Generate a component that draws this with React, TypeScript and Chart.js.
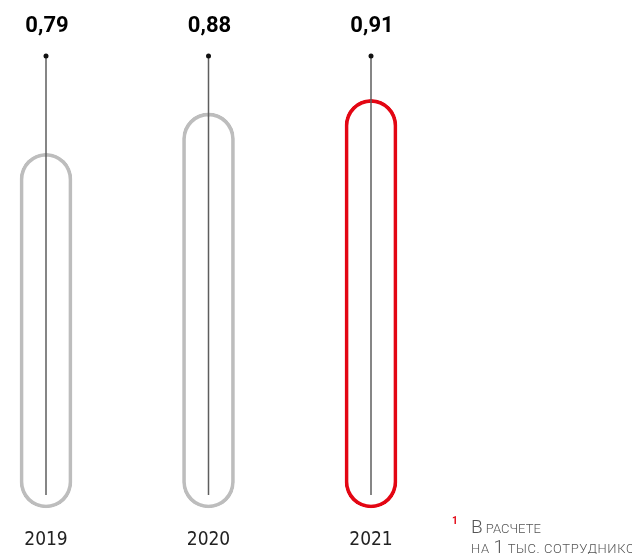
import React, { useEffect, useRef } from 'react';
import { Chart, registerables } from 'chart.js';

Chart.register(...registerables);

const years = ['2019', '2020', '2021'];
const values = [0.79, 0.88, 0.91];
const valueLabels = ['0,79', '0,88', '0,91'];
const barColors = ['#bdbdbd', '#bdbdbd', '#e30613'];
const footnoteMark = '1';
// [text, isBig] segments: small-caps emulation
const footnoteLine1: [string, boolean][] = [['В', true], [' РАСЧЕТЕ', false]];
const footnoteLine2: [string, boolean][] = [['НА ', false], ['1', true], [' ТЫС. СОТРУДНИКОВ', false]];

const decorPlugin = {
  id: 'decor',
  afterDatasetsDraw(chart: any) {
    const { ctx, scales } = chart;
    const x = scales.x;
    const y = scales.y;
    ctx.save();
    values.forEach((_v, i) => {
      const px = x.getPixelForValue(i);
      const top = y.getPixelForValue(y.max) - 3;
      const bottom = y.getPixelForValue(0) - 13;
      ctx.strokeStyle = '#5e5e5e';
      ctx.lineWidth = 1.5;
      ctx.beginPath();
      ctx.moveTo(px, top);
      ctx.lineTo(px, bottom);
      ctx.stroke();
      ctx.fillStyle = '#111';
      ctx.beginPath();
      ctx.arc(px, top, 2.5, 0, Math.PI * 2);
      ctx.fill();
      ctx.font = 'bold 22px Roboto';
      ctx.textAlign = 'center';
      ctx.textBaseline = 'middle';
      ctx.fillStyle = '#000';
      ctx.fillText(valueLabels[i], px + 1, 18.5);
    });

    // footnote
    ctx.textAlign = 'left';
    ctx.textBaseline = 'alphabetic';
    ctx.fillStyle = '#e30613';
    ctx.font = 'bold 10px Roboto';
    ctx.fillText(footnoteMark, 444, 516);
    const drawLine = (segs: [string, boolean][], sx: number, by: number, spacing: string) => {
      let cx = sx;
      ctx.fillStyle = '#555';
      segs.forEach(([t, big]) => {
        ctx.font = big ? '300 19px Roboto' : '300 13px Roboto';
        (ctx as any).letterSpacing = big ? '0px' : spacing;
        ctx.fillText(t, cx, by);
        cx += ctx.measureText(t).width;
      });
      (ctx as any).letterSpacing = '0px';
    };
    drawLine(footnoteLine1, 463, 525, '0px');
    drawLine(footnoteLine2, 463, 544.5, '0.6px');
    ctx.restore();
  },
};

export default function App() {
  const ref = useRef<HTMLCanvasElement>(null);
  useEffect(() => {
    if (!ref.current) return;
    const chart = new Chart(ref.current, {
      type: 'bar',
      data: {
        labels: years,
        datasets: [
          {
            data: values,
            backgroundColor: 'rgba(0,0,0,0)',
            borderColor: barColors,
            borderWidth: 3,
            borderRadius: 26,
            borderSkipped: false,
            barThickness: 52,
            clip: false as any,
          },
        ],
      },
      options: {
        responsive: false,
        animation: false,
        events: [],
        devicePixelRatio: 1,
        layout: { padding: { left: 38, right: 269, top: 51, bottom: 0 } },
        plugins: { legend: { display: false }, tooltip: { enabled: false } },
        scales: {
          x: {
            offset: false,
            grid: { display: false, drawTicks: false },
            border: { display: false },
            ticks: {
              color: '#222',
              font: { family: '"DejaVu Sans Condensed", sans-serif', size: 19 },
              padding: 21,
              maxRotation: 0,
              autoSkip: false,
            },
            afterFit: (scale: any) => {
              scale.height = 46;
              scale.paddingLeft = 0;
              scale.paddingRight = 0;
            },
          },
          y: { display: false, min: 0, max: 1 },
        },
      },
      plugins: [decorPlugin],
    });
    return () => chart.destroy();
  }, []);
  return (
    <div style={{ width: 632, height: 546, overflow: 'hidden' }}>
      <canvas ref={ref} width={632} height={546} style={{ display: 'block' }} />
    </div>
  );
}
